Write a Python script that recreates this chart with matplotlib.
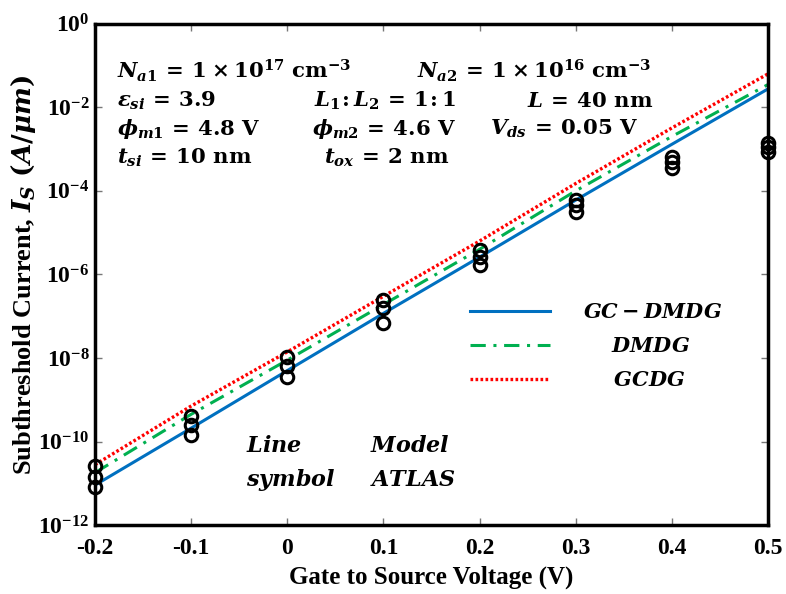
import numpy as np
import matplotlib.pyplot as plt
from matplotlib.ticker import FixedLocator, NullLocator

plt.rcParams["font.family"] = "Liberation Serif"
plt.rcParams["font.weight"] = "bold"
plt.rcParams["axes.labelweight"] = "bold"
plt.rcParams["mathtext.fontset"] = "custom"
plt.rcParams["mathtext.rm"] = "DejaVu Serif:bold"
plt.rcParams["mathtext.it"] = "DejaVu Serif:italic:bold"
plt.rcParams["mathtext.bf"] = "DejaVu Serif:bold"

# gate voltage (V)
vgs = [-0.2, -0.1, 0.0, 0.1, 0.2, 0.3, 0.4, 0.5]

# model curves, subthreshold current (A/um)
gc_dmdg = [9.1e-12, 2.1e-10, 5.0e-9, 1.17e-7, 2.6e-6, 6.0e-5, 1.3e-3, 2.75e-2]
dmdg = [1.8e-11, 4.5e-10, 8.9e-9, 1.9e-7, 4.0e-6, 1.0e-4, 2.0e-3, 3.5e-2]
gcdg = [2.8e-11, 7.1e-10, 1.4e-8, 3.0e-7, 6.3e-6, 1.5e-4, 3.2e-3, 6.3e-2]

# ATLAS simulation points
atlas_top = [2.6e-11, 4.1e-10, 1.05e-8, 2.5e-7, 3.9e-6, 6.0e-5, 6.5e-4, 1.4e-3]
atlas_mid = [1.4e-11, 2.5e-10, 6.5e-9, 1.6e-7, 2.6e-6, 4.6e-5, 4.9e-4, 1.1e-3]
atlas_low = [8.1e-12, 1.4e-10, 3.5e-9, 6.9e-8, 1.7e-6, 3.2e-5, 3.5e-4, 8.5e-4]

xtick_labels = ["-0.2", "-0.1", "0", "0.1", "0.2", "0.3", "0.4", "0.5"]
yticks = [1e-12, 1e-10, 1e-8, 1e-6, 1e-4, 1e-2, 1e0]

fig = plt.figure(figsize=(7.86, 5.94), dpi=100)
ax = fig.add_axes([0.121, 0.116, 0.856, 0.844])

l1, = ax.semilogy(vgs, gc_dmdg, color="#0070C0", lw=2.2)
l2, = ax.semilogy(vgs, dmdg, color="#00B050", lw=2.2, dashes=(5, 2.5, 1, 2.5))
l3, = ax.semilogy(vgs, gcdg, color="#FF0000", lw=2.4, linestyle=(0, (0.8, 0.7)))

for pts in (atlas_top, atlas_mid, atlas_low):
    ax.semilogy(vgs, pts, linestyle="none", marker="o", ms=9, mfc="none",
                mec="black", mew=2.2, clip_on=False, zorder=5)

ax.set_xlim(-0.2, 0.5)
ax.set_ylim(1e-12, 1e0)
ax.xaxis.set_major_locator(FixedLocator(vgs))
ax.set_xticklabels(xtick_labels)
ax.yaxis.set_major_locator(FixedLocator(yticks))
ax.yaxis.set_minor_locator(NullLocator())
ax.tick_params(direction="in", length=5, width=1, color="#777777",
               top=True, right=True, labelsize=17)
ax.tick_params(axis="x", pad=9)
ax.tick_params(axis="y", pad=4)
for s in ax.spines.values():
    s.set_linewidth(2.5)

ax.set_xlabel("Gate to Source Voltage (V)", fontsize=18, labelpad=5)
ax.set_ylabel(r"Subthreshold Current, $I_S\ (A/\mu m)$", fontsize=19, labelpad=0)

# device parameters
fs = 15.3
ax.text(0.032, 0.891, r"$N_{a1}\,=\,1\times10^{17}\ \mathrm{cm^{-3}}$", transform=ax.transAxes, fontsize=fs)
ax.text(0.478, 0.891, r"$N_{a2}\,=\,1\times10^{16}\ \mathrm{cm^{-3}}$", transform=ax.transAxes, fontsize=fs)
ax.text(0.032, 0.834, r"$\varepsilon_{si}\,=\,3.9$", transform=ax.transAxes, fontsize=fs)
ax.text(0.326, 0.834, r"$L_1\!:L_2\,=\,1\!:1$", transform=ax.transAxes, fontsize=fs)
ax.text(0.642, 0.834, r"$L\,=\,40\ \mathrm{nm}$", transform=ax.transAxes, fontsize=fs)
ax.text(0.032, 0.778, r"$\phi_{m1}\,=\,4.8\ \mathrm{V}$", transform=ax.transAxes, fontsize=fs)
ax.text(0.323, 0.778, r"$\phi_{m2}\,=\,4.6\ \mathrm{V}$", transform=ax.transAxes, fontsize=fs)
ax.text(0.587, 0.778, r"$V_{ds}\,=\,0.05\ \mathrm{V}$", transform=ax.transAxes, fontsize=fs)
ax.text(0.032, 0.721, r"$t_{si}\,=\,10\ \mathrm{nm}$", transform=ax.transAxes, fontsize=fs)
ax.text(0.340, 0.721, r"$t_{ox}\,=\,2\ \mathrm{nm}$", transform=ax.transAxes, fontsize=fs)

ax.text(0.225, 0.145, r"$Line$", transform=ax.transAxes, fontsize=16)
ax.text(0.225, 0.078, r"$symbol$", transform=ax.transAxes, fontsize=16)
ax.text(0.408, 0.145, r"$Model$", transform=ax.transAxes, fontsize=16)
ax.text(0.408, 0.078, r"$ATLAS$", transform=ax.transAxes, fontsize=16)

ax.legend(handles=[l1, l2, l3],
          labels=[r"$GC-DMDG$", r"$\hspace{1.3}DMDG$", r"$\hspace{1.4}GCDG$"],
          loc="center left", bbox_to_anchor=(0.53, 0.355), frameon=False,
          fontsize=15, handlelength=3.8, handletextpad=1.6, labelspacing=0.68)

plt.savefig("out.png", dpi=100)
